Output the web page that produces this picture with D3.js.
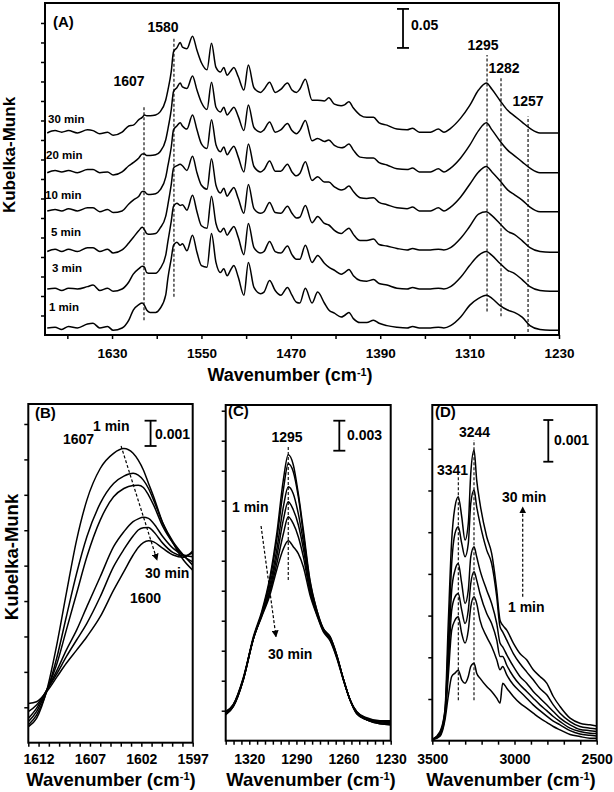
<!DOCTYPE html>
<html><head><meta charset="utf-8">
<script src="https://cdn.jsdelivr.net/npm/d3@7/dist/d3.min.js"></script>
<style>
html,body{margin:0;padding:0;background:#fff;}
svg text{font-family:Arial,"Liberation Sans",Helvetica,sans-serif;font-weight:bold;fill:#000;}
</style></head><body>
<svg id="chart" width="614" height="792"></svg>
<script>
// ================= DATA =================
// Panel A: wavenumber grid (cm-1) and Kubelka-Munk values (units of 10^-3 KM), stacked with offsets
const wnA = [1688,1681,1675,1669,1661,1652,1647,1641,1634,1629,
  1621,1615,1611,1606,1603,1601,1599,1596,1591,1587,
  1582,1580,1577,1575,1572,1569,1567,1563,1558,1554,
  1550,1545,1541,1537,1533,1530,1527,1524,1521,1517,
  1512,1508,1503,1497,1494,1489,1484,1479,1473,1469,
  1465,1462,1457,1451,1446,1440,1436,1431,1425,1422,
  1418,1414,1408,1402,1396,1391,1384,1375,1366,1361,
  1355,1345,1338,1333,1327,1318,1310,1302,1295,1290,
  1283,1276,1270,1263,1256,1247,1238,1230];
const kmA_1min = [3,4,1,5,3,8,9,3,5,0,
  3,13,26,33,35,32,26,23,23,28,
  45,67,92,109,113,109,111,102,122,100,
  83,81,124,87,74,79,70,77,83,68,
  45,87,55,47,49,64,51,45,55,45,
  36,35,54,35,49,35,26,22,17,19,
  23,15,10,10,13,9,6,4,3,5,
  3,3,4,3,6,17,32,41,45,41,
  32,26,23,17,6,1,0,0];
const kmA_3min = [3,4,1,4,3,6,8,1,4,0,
  3,12,22,29,32,31,24,23,23,29,
  46,64,90,109,113,110,111,104,123,102,
  84,81,122,87,76,81,72,78,83,69,
  47,87,56,49,51,64,51,49,58,47,
  41,41,59,37,46,36,31,27,22,24,
  28,20,14,13,15,10,8,4,3,5,
  3,3,4,3,6,18,33,46,51,46,
  36,27,23,15,6,1,0,0];
const kmA_5min = [1,4,1,4,1,6,6,1,4,-1,
  3,12,19,28,32,29,24,23,24,31,
  46,61,87,108,111,113,111,105,123,102,
  86,81,120,86,76,82,72,78,83,69,
  50,87,56,50,52,64,51,50,59,50,
  44,45,60,38,46,37,35,28,24,27,
  31,23,15,15,17,10,8,5,3,5,
  3,3,4,3,6,18,33,49,52,47,
  37,27,23,15,6,1,0,0];
const kmA_10min = [1,3,1,4,1,5,5,0,3,-1,
  1,10,15,20,26,26,23,22,23,28,
  44,59,83,105,110,114,110,106,124,105,
  87,81,118,86,77,83,73,79,84,70,
  51,87,58,51,54,65,52,52,61,51,
  46,49,64,40,45,38,38,32,28,29,
  33,26,18,17,18,12,9,5,4,6,
  1,1,5,1,6,19,35,51,58,51,
  40,28,22,15,6,0,0,0];
const kmA_20min = [0,3,1,3,0,4,4,0,1,-3,
  1,9,13,19,24,24,22,22,23,27,
  42,56,81,104,109,115,110,108,124,106,
  90,81,116,84,78,84,74,79,84,72,
  54,87,58,52,55,65,52,55,63,54,
  50,54,67,41,44,40,42,35,32,33,
  37,29,20,19,19,13,10,5,4,6,
  1,1,5,1,6,19,35,54,64,55,
  41,29,22,14,6,0,0,0];
const kmA_30min = [0,3,1,3,0,4,3,-1,1,-3,
  1,9,10,17,20,23,22,22,23,27,
  42,55,79,104,109,116,110,108,124,106,
  90,81,115,84,78,84,74,79,84,72,
  55,87,58,52,56,65,52,56,64,55,
  52,56,69,42,42,41,45,37,35,36,
  40,32,23,20,20,13,10,5,4,6,
  1,1,5,1,6,19,35,55,64,56,
  42,29,22,14,6,0,0,0];
const timeLabelsA = ["1 min","3 min","5 min","10 min","20 min","30 min"];
const offsetsA = [6,56,106,158,208,259];
const xTicksA = [1670,1630,1590,1550,1510,1470,1430,1390,1350,1310,1270,1230];
const xLabelsA = [1630,1550,1470,1390,1310,1230];
const yTicksA = [25,50,75,100,125,150,175,200,225,250,275,300,325,350,375,400];
const peakLabelsA = ["1607","1580","1295","1282","1257"];
const peakPosA = [1601.4,1574.6,1294.4,1281.9,1257.7];
const peakLowA = [19,49,30,24,4];
const peakHighA = [294,380,359,330,280];

// Panel B (1607 band)
const wnB = [1613,1612.2,1611.2,1610.2,1609.3,1608.3,1607.3,1606.0,1604.7,1603.7,1602.8,1602.3,1601.8,1601.3,1600.8,1599.9,1598.9,1597.9,1597];
const kmB_1 = [0.63,0.96,2.08,3.93,5.90,8.01,9.59,10.84,11.44,11.63,11.44,11.17,10.78,10.25,9.72,8.67,7.88,7.22,6.82];
const kmB_2 = [0.70,1.09,2.02,3.40,4.98,6.69,8.14,9.46,10.25,10.54,10.65,10.58,10.38,10.05,9.59,8.67,7.94,7.42,7.02];
const kmB_3 = [0.83,1.23,2.08,3.14,4.45,5.90,7.35,8.80,9.72,10.05,10.17,10.18,10.09,9.79,9.39,8.54,7.88,7.38,7.15];
const kmB_4 = [0.96,1.36,2.08,2.87,3.66,4.45,5.38,6.56,7.75,8.34,8.74,8.85,8.91,8.87,8.67,8.14,7.68,7.42,7.35];
const kmB_5 = [1.23,1.49,2.08,2.74,3.40,4.06,4.72,5.77,6.96,7.64,8.17,8.41,8.50,8.51,8.34,7.88,7.51,7.38,7.51];
const kmB_6 = [1.55,1.62,2.02,2.61,3.14,3.66,4.19,4.98,6.03,6.76,7.42,7.72,7.91,7.98,7.94,7.68,7.42,7.33,7.58];
const xTicksB = [1613,1612,1611,1610,1609,1608,1607,1606,1605,1604,1603,1602,1601,1600,1599,1598,1597];
const xLabelsB = [1612,1607,1602,1597];
const yTicksB = [1.4,2.8,4.2,5.6,7.0,8.4,9.8,11.2,12.6];

// Panel C (1295 band)
const wnC = [1335,1330.2,1323.8,1317.4,1312.1,1306.8,1302.5,1298.3,1295.2,1292,1288.8,1285.6,1281.4,1277.1,1272.9,1268.6,1264.4,1260.2,1255.9,1251.6,1245.3,1236.8,1230];
const kmC_1 = [2.6,3.4,6.1,10.4,12.9,16.4,20.7,26.1,28.6,27.6,24.7,21.1,16.1,13.1,11.2,10.4,8.6,6.2,4.1,2.7,2.1,1.7,1.6];
const kmC_2 = [2.6,3.4,6.1,10.2,12.7,16.1,20.1,25.1,27.7,26.9,24.4,20.7,15.9,13.1,11.2,10.4,8.6,6.2,4.1,2.7,2.1,1.7,1.6];
const kmC_3 = [2.7,3.5,6.1,10.2,12.7,15.6,19.1,23.4,25.4,24.7,22.7,19.9,15.6,12.9,11.1,10.3,8.5,6.2,4.1,2.8,2.1,1.8,1.7];
const kmC_4 = [2.8,3.5,6.2,10.2,12.6,15.2,18.4,22.1,23.9,23.1,21.6,19.2,15.2,12.8,11.1,10.2,8.5,6.2,4.1,2.8,2.2,1.9,1.8];
const kmC_5 = [2.9,3.6,6.2,10.2,12.5,14.9,17.7,20.7,22.4,21.7,20.4,18.4,14.9,12.7,11.0,10.1,8.4,6.2,4.1,2.9,2.2,1.9,1.9];
const kmC_6 = [2.9,3.6,6.3,10.2,12.4,14.6,17.1,19.2,20.0,19.4,18.7,17.4,14.6,12.6,10.9,10.0,8.3,6.1,4.1,2.9,2.3,2.0,2.0];
const xTicksC = [1335,1330,1325,1320,1315,1310,1305,1300,1295,1290,1285,1280,1275,1270,1265,1260,1255,1250,1245,1240,1235,1230];
const xLabelsC = [1320,1290,1260,1230];
const yTicksC = [3,6,9,12,15,18,21,24,27,30,33];

// Panel D (3500-2500 region)
const wnD = [3500,3453,3423,3403,3382,3362,3342,3321,3301,3281,3266,3246,3230,3210,3169,3139,3108,3088,3072,3047,3007,2967,2926,2886,2845,2804,2764,2723,2662,2602,2541,2500];
const kmD_1 = [0.02,0.11,0.50,1.06,1.54,1.62,1.69,1.46,1.38,1.54,1.78,1.86,1.62,1.50,1.30,1.18,1.02,0.90,1.38,1.26,1.06,0.90,0.78,0.66,0.54,0.44,0.34,0.26,0.15,0.10,0.06,0.06];
const kmD_2 = [0.02,0.14,0.58,1.54,2.65,2.89,2.97,2.57,2.34,2.65,3.21,3.45,3.29,2.89,2.49,2.26,1.94,1.70,1.78,1.58,1.34,1.18,1.02,0.86,0.72,0.59,0.47,0.38,0.24,0.16,0.13,0.11];
const kmD_3 = [0.02,0.16,0.62,1.78,3.13,3.45,3.53,3.13,2.81,3.13,3.77,4.05,3.85,3.53,3.05,2.81,2.41,2.02,2.02,1.81,1.54,1.34,1.18,1.02,0.86,0.72,0.58,0.46,0.30,0.22,0.18,0.17];
const kmD_4 = [0.02,0.18,0.66,2.02,3.61,4.09,4.25,3.77,3.29,3.61,4.41,4.65,4.41,4.09,3.61,3.29,2.81,2.34,2.25,2.06,1.78,1.54,1.38,1.18,1.02,0.86,0.70,0.54,0.38,0.27,0.24,0.22];
const kmD_5 = [0.03,0.19,0.70,2.34,4.25,4.97,5.13,4.73,4.41,4.73,5.69,6.01,5.61,5.21,4.57,4.25,3.45,2.73,2.61,2.41,2.09,1.85,1.65,1.46,1.25,1.10,0.86,0.66,0.46,0.34,0.30,0.28];
const kmD_6 = [0.03,0.22,0.74,2.81,4.81,5.61,5.85,5.37,4.81,5.21,6.41,6.97,6.25,5.69,4.89,4.49,3.61,2.89,2.77,2.65,2.34,2.09,1.94,1.70,1.54,1.38,1.06,0.82,0.54,0.42,0.38,0.35];
const xTicksD = [3500,3400,3300,3200,3100,3000,2900,2800,2700,2600,2500];
const xLabelsD = [3500,3000,2500];
const yTicksD = [1,2,3,4,5,6,7];

// ================= DRAWING =================
const svg = d3.select("#chart");
const defs = svg.append("defs");
defs.append("marker").attr("id","arrowhead").attr("viewBox","0 0 10 10")
  .attr("refX",9).attr("refY",5).attr("markerWidth",7).attr("markerHeight",7)
  .attr("markerUnits","userSpaceOnUse").attr("orient","auto")
  .append("path").attr("d","M0,0L10,5L0,10Z").attr("fill","#000");

function drawPanel(o) {
  const x = d3.scaleLinear().domain(o.xDomain).range(o.xRange);
  const y = d3.scaleLinear().domain(o.yDomain).range(o.yRange);
  const g = svg.append("g");
  defs.append("clipPath").attr("id","clip"+o.name).append("rect")
    .attr("x",o.xRange[0]).attr("y",o.yRange[1])
    .attr("width",o.xRange[1]-o.xRange[0]).attr("height",o.yRange[0]-o.yRange[1]);
  const xa = g.append("g").attr("transform",`translate(0,${o.yRange[0]})`)
    .call(d3.axisBottom(x).tickValues(o.xTicks).tickSize(o.tickLen).tickSizeOuter(0)
      .tickFormat(d => o.xLabels.includes(d) ? String(d) : ""));
  xa.select(".domain").remove();
  xa.selectAll("line").attr("stroke","#000").attr("stroke-width",1.5);
  xa.selectAll("text").attr("y",o.labelY).attr("dy",null).attr("font-size",o.labelSize);
  const ya = g.append("g").attr("transform",`translate(${o.xRange[0]},0)`)
    .call(d3.axisLeft(y).tickValues(o.yTicks).tickSize(o.tickLen).tickSizeOuter(0).tickFormat(""));
  ya.select(".domain").remove();
  ya.selectAll("line").attr("stroke","#000").attr("stroke-width",1.5);
  const lines = g.append("g").attr("clip-path",`url(#clip${o.name})`);
  g.append("rect").attr("x",o.xRange[0]).attr("y",o.yRange[1])
    .attr("width",o.xRange[1]-o.xRange[0]).attr("height",o.yRange[0]-o.yRange[1])
    .attr("fill","none").attr("stroke","#000").attr("stroke-width",2);
  return {x,y,g,lines};
}
function txt(g, s, x, y, size, anchor) {
  return g.append("text").attr("x",x).attr("y",y).attr("font-size",size)
    .attr("text-anchor",anchor||"start").text(s);
}
function xTitle(g, cx, y, size) {
  const t = g.append("text").attr("x",cx).attr("y",y).attr("font-size",size).attr("text-anchor","middle");
  t.append("tspan").text("Wavenumber (cm");
  t.append("tspan").attr("font-size",size*0.6).attr("dy",-size*0.3).text("-1");
  t.append("tspan").attr("dy",size*0.3).text(")");
}
function yTitle(g, x, cy, size) {
  g.append("text").attr("transform",`translate(${x},${cy}) rotate(-90)`)
    .attr("font-size",size).attr("text-anchor","middle").text("Kubelka-Munk");
}
function scaleBar(P, wn, v0, v1, cap) {
  const xp = P.x(wn);
  P.g.append("line").attr("x1",xp).attr("x2",xp).attr("y1",P.y(v0)).attr("y2",P.y(v1)).attr("stroke","#000").attr("stroke-width",1.8);
  [v0,v1].forEach(v => P.g.append("line").attr("x1",xp-cap).attr("x2",xp+cap)
    .attr("y1",P.y(v)).attr("y2",P.y(v)).attr("stroke","#000").attr("stroke-width",1.8));
}
function dashLine(P, wn, v0, v1) {
  P.g.append("line").attr("x1",P.x(wn)).attr("x2",P.x(wn)).attr("y1",P.y(v0)).attr("y2",P.y(v1))
    .attr("stroke","#000").attr("stroke-width",1.1).attr("stroke-dasharray","3,2");
}
function arrow(P, w0, v0, w1, v1) {
  P.g.append("line").attr("x1",P.x(w0)).attr("y1",P.y(v0)).attr("x2",P.x(w1)).attr("y2",P.y(v1))
    .attr("stroke","#000").attr("stroke-width",1.2).attr("stroke-dasharray","3,2")
    .attr("marker-end","url(#arrowhead)");
}
function drawSeries(P, wn, series, offsets) {
  const line = d3.line().x(d => P.x(d[0])).y(d => P.y(d[1])).curve(d3.curveMonotoneX);
  series.forEach((s, i) => {
    const off = offsets ? offsets[i] : 0;
    P.lines.append("path").datum(wn.map((w, j) => [w, s[j] + off]))
      .attr("d", line).attr("fill","none").attr("stroke","#000").attr("stroke-width",1.5);
  });
}

// ----- Panel A -----
const A = drawPanel({name:"A", xDomain:[1690,1230], xRange:[45,559], yDomain:[0,425.6], yRange:[335,3],
  xTicks:xTicksA, xLabels:xLabelsA, yTicks:yTicksA, tickLen:4, labelY:23, labelSize:13.5});
drawSeries(A, wnA, [kmA_1min,kmA_3min,kmA_5min,kmA_10min,kmA_20min,kmA_30min], offsetsA);
peakPosA.forEach((p,i) => dashLine(A, p, peakLowA[i], peakHighA[i]));
txt(A.g, "(A)", 53, 27, 15);
txt(A.g, peakLabelsA[0], 129, 86, 14, "middle");
txt(A.g, peakLabelsA[1], 163, 32, 14, "middle");
txt(A.g, peakLabelsA[2], 483, 50, 14, "middle");
txt(A.g, peakLabelsA[3], 504, 73, 14, "middle");
txt(A.g, peakLabelsA[4], 528, 106, 14, "middle");
scaleBar(A, 1369.6, 368, 418, 6);
txt(A.g, "0.05", 411, 30, 14);
const timePosA = [[49,311],[52,272],[51,236],[45,199],[46,159],[48,123]];
timeLabelsA.forEach((t,i) => txt(A.g, t, timePosA[i][0], timePosA[i][1], 11.5));
xTitle(A.g, 290, 381, 18);
yTitle(A.g, 15, 155, 17);

// ----- Panel B -----
const B = drawPanel({name:"B", xDomain:[1613,1597], xRange:[28.3,192.7], yDomain:[0,13.39], yRange:[742.7,404],
  xTicks:xTicksB, xLabels:xLabelsB, yTicks:yTicksB, tickLen:4, labelY:21, labelSize:14});
drawSeries(B, wnB, [kmB_1,kmB_2,kmB_3,kmB_4,kmB_5,kmB_6]);
arrow(B, 1603.97, 11.73, 1600.47, 7.22);
scaleBar(B, 1601.1, 11.73, 12.73, 6);
txt(B.g, "(B)", 35, 418, 15);
txt(B.g, "1 min", 93, 431, 14);
txt(B.g, "1607", 63, 444, 14);
txt(B.g, "0.001", 155, 439, 14);
txt(B.g, "30 min", 145, 578, 14);
txt(B.g, "1600", 130, 603, 14);
xTitle(B.g, 111, 786, 18.5);
yTitle(B.g, 18, 557, 18.5);

// ----- Panel C -----
const C = drawPanel({name:"C", xDomain:[1335,1230], xRange:[225.7,390.7], yDomain:[0,33.57], yRange:[740.7,405],
  xTicks:xTicksC, xLabels:xLabelsC, yTicks:yTicksC, tickLen:4, labelY:23, labelSize:14});
drawSeries(C, wnC, [kmC_1,kmC_2,kmC_3,kmC_4,kmC_5,kmC_6]);
dashLine(C, 1295.2, 16.07, 29.4);
arrow(C, 1312.5, 21.47, 1303, 10.4);
scaleBar(C, 1262.7, 29, 32, 6);
txt(C.g, "(C)", 228, 416, 15);
txt(C.g, "1295", 287, 442, 14, "middle");
txt(C.g, "0.003", 347, 440, 14);
txt(C.g, "1 min", 232, 512, 14);
txt(C.g, "30 min", 268, 659, 14);
xTitle(C.g, 311, 786, 18.5);

// ----- Panel D -----
const D = drawPanel({name:"D", xDomain:[3500,2500], xRange:[432.3,596.7], yDomain:[0,8.05], yRange:[740.7,405],
  xTicks:xTicksD, xLabels:xLabelsD, yTicks:yTicksD, tickLen:4, labelY:23, labelSize:14});
drawSeries(D, wnD, [kmD_1,kmD_2,kmD_3,kmD_4,kmD_5,kmD_6]);
dashLine(D, 3341.8, 0.97, 6.32);
dashLine(D, 3246.4, 0.97, 7.21);
arrow(D, 2950, 3.45, 2950, 5.6);
scaleBar(D, 2794.4, 6.69, 7.69, 5);
txt(D.g, "(D)", 435, 417, 15);
txt(D.g, "3244", 459, 437, 14);
txt(D.g, "3341", 437, 475, 14);
txt(D.g, "0.001", 554, 445, 14);
txt(D.g, "30 min", 502, 502, 14);
txt(D.g, "1 min", 508, 612, 14);
xTitle(D.g, 511, 786, 18.5);
</script></body></html>
